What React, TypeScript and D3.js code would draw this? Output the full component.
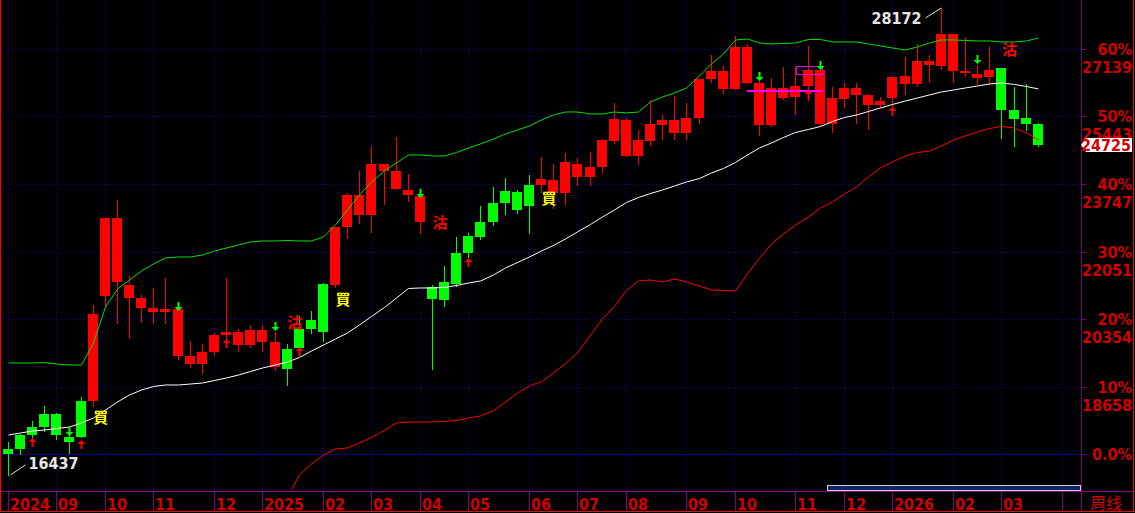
import React from "react";
import * as d3 from "d3";

// weekly bars, Aug 2024 -> Mar 2026
const openP = [16962, 17088, 17440, 17640, 17967, 17389, 17389, 18294, 20933, 22893, 21209, 20882, 20631, 20531, 20606, 19425, 19224, 19526, 19953, 20028, 19702, 20079, 19777, 19098, 19627, 20102, 20028, 21209, 22666, 23471, 22968, 24250, 24074, 23596, 23446, 21159, 20832, 21234, 22013, 22415, 22792, 23270, 23546, 23194, 23722, 23848, 23521, 24250, 23923, 24174, 24828, 25356, 24451, 24828, 25230, 25356, 25029, 25406, 26386, 26587, 26134, 27190, 26285, 25230, 26160, 25933, 26210, 26612, 25255, 25883, 26160, 25984, 25732, 25908, 26461, 26260, 26838, 26712, 27517, 26587, 26511, 26436, 26662, 25607, 25406, 25255];
const highP = [17264, 17465, 17791, 18168, 17992, 17640, 18394, 20706, 22893, 23345, 21435, 20958, 21134, 21385, 20656, 19802, 19727, 20003, 21385, 20102, 20204, 20204, 20028, 19727, 20430, 20556, 21259, 22666, 23521, 24074, 24702, 24250, 24928, 23998, 23446, 21209, 21686, 22415, 22516, 23194, 23672, 23898, 23596, 23973, 24426, 24250, 24526, 24400, 24551, 24878, 25783, 25406, 25104, 25858, 25481, 25959, 25783, 26386, 26989, 26712, 27466, 27265, 26335, 26411, 26687, 26687, 27215, 26612, 26185, 26285, 26285, 26009, 25933, 26436, 26939, 27265, 26989, 28172, 27517, 27441, 26738, 27190, 26662, 26185, 26260, 25280];
const lowP = [16437, 16962, 17364, 17540, 17339, 16987, 17389, 18168, 20681, 20254, 19877, 20279, 20254, 20254, 19350, 19149, 18998, 19450, 19647, 19551, 19652, 19551, 19073, 18697, 19526, 20003, 19802, 21159, 22390, 22767, 22541, 23244, 23621, 23320, 22516, 19098, 20681, 21184, 21913, 22365, 22717, 22993, 23018, 22516, 23546, 23144, 23244, 23722, 23722, 24049, 24777, 24451, 24250, 24727, 24878, 24878, 24878, 25280, 26310, 26034, 26134, 26285, 24978, 25205, 25883, 25506, 25858, 25205, 25054, 25682, 25280, 25129, 25682, 25607, 26009, 26210, 26310, 26637, 26310, 26461, 26260, 26260, 24903, 24702, 25104, 24702];
const closeP = [17088, 17440, 17640, 17967, 17440, 17264, 18294, 20480, 22893, 21284, 20882, 20631, 20531, 20606, 19425, 19224, 19526, 19953, 20028, 19702, 20079, 19777, 19149, 19602, 20102, 20329, 21234, 22666, 23471, 22968, 24250, 24074, 23621, 23471, 22792, 20857, 21284, 22013, 22440, 22792, 23270, 23571, 23094, 23722, 23873, 23521, 24300, 23923, 24174, 24853, 25381, 24451, 24853, 25255, 25356, 25029, 25406, 26386, 26587, 26134, 27190, 26285, 25230, 26160, 25908, 26210, 26612, 25255, 25908, 26160, 25984, 25732, 25833, 26436, 26260, 26838, 26738, 27517, 26587, 26537, 26411, 26612, 25607, 25381, 25255, 24725];
// bar colour state: g = green, r = red
const trend = "gggggggrrrrrrrrrrrrrrrrggggrrrrrrrrgggggggggrrrrrrrrrrrrrrrrrrrrrrrrrrrrrrrrrrrrrrgggg".split("");

// channel lines
const upperBand = [19249, 19249, 19249, 19261, 19224, 19199, 19199, 19751, 20656, 21108, 21335, 21561, 21737, 21887, 21913, 21913, 21963, 22063, 22139, 22214, 22290, 22315, 22315, 22327, 22315, 22315, 22415, 22717, 23094, 23471, 23797, 24074, 24275, 24476, 24476, 24451, 24451, 24539, 24652, 24752, 24878, 25004, 25104, 25205, 25355, 25481, 25556, 25556, 25506, 25506, 25556, 25531, 25556, 25808, 25933, 26034, 26160, 26461, 26763, 27014, 27366, 27391, 27290, 27265, 27278, 27290, 27378, 27378, 27316, 27316, 27316, 27265, 27215, 27165, 27114, 27190, 27290, 27366, 27366, 27353, 27341, 27341, 27316, 27316, 27341, 27416];
const midLine = [17439, 17490, 17540, 17565, 17603, 17640, 17741, 17867, 18068, 18269, 18445, 18570, 18658, 18696, 18696, 18721, 18746, 18809, 18872, 18947, 19035, 19123, 19199, 19274, 19387, 19550, 19701, 19852, 20003, 20204, 20417, 20644, 20882, 21121, 21134, 21134, 21146, 21196, 21259, 21309, 21460, 21636, 21774, 21913, 22063, 22202, 22365, 22541, 22729, 22918, 23094, 23282, 23408, 23508, 23596, 23697, 23797, 23885, 24024, 24137, 24287, 24476, 24652, 24777, 24916, 25041, 25117, 25192, 25318, 25418, 25481, 25569, 25657, 25745, 25833, 25908, 25984, 26059, 26109, 26160, 26210, 26260, 26285, 26248, 26197, 26134];
const lowerBand = [null, null, null, null, null, null, null, null, null, null, null, null, null, null, null, null, null, null, null, null, null, null, null, 15881, 16434, 16711, 16937, 17088, 17113, 17238, 17377, 17553, 17741, 17766, 17766, 17766, 17779, 17804, 17867, 17917, 18055, 18269, 18495, 18671, 18784, 18998, 19236, 19500, 19952, 20355, 20669, 21071, 21309, 21335, 21284, 21360, 21284, 21184, 21083, 21071, 21058, 21485, 21887, 22239, 22491, 22717, 22918, 23144, 23295, 23496, 23672, 23923, 24149, 24300, 24451, 24539, 24576, 24702, 24853, 24953, 25054, 25142, 25192, 25154, 25029, 24853];

// signals
const buyIdx = [7, 27, 44];
const buyAt = [17892, 20857, 23395];
const sellIdx = [23, 35, 82];
const sellAt = [20279, 22792, 27140];
const upArrowIdx = [2, 6, 18, 24, 38, 66, 73];
const upArrowAt = [17364, 17314, 19852, 19651, 21887, 26109, 25682];
const downArrowIdx = [5, 14, 22, 34, 62, 67, 80];
const downArrowAt = [17414, 20556, 20053, 23395, 26335, 26612, 26763];

// axes
const monthTicks = [0, 4, 8, 12, 17, 21, 26, 30, 34, 38, 43, 47, 51, 56, 60, 65, 69, 73, 78, 82, 87];
const monthLabels = ["2024", "09", "10", "11", "12", "2025", "02", "03", "04", "05", "06", "07", "08", "09", "10", "11", "12", "2026", "02", "03", ""];
const pctLabels = ["0.0%", "10%", "20%", "30%", "40%", "50%", "60%"];
const priceLabels = ["", "18658", "20354", "22051", "23747", "25443", "27139"];
const basePrice = 16962;
const topPrice = 27139;
const lastPrice = 24725;

const W = 1135;
const H = 513;
const plotR = 1081;
const plotB = 491;
const RED = "#ff0000";
const GREEN = "#00ff00";
const AXIS_RED = "#d00000";
const PURPLE = "#800080";
const GRID = "#0000c8";
const NUM_FONT = "'DejaVu Sans Condensed','DejaVu Sans',sans-serif";
const CJK_FONT = "'Noto Sans CJK TC','Noto Sans CJK SC',sans-serif";

export default function App() {
  const x = d3.scaleLinear().domain([0, 87]).range([8, 1062]);
  const y = d3.scaleLinear().domain([basePrice, topPrice]).range([454, 49]);
  const px = (i: number) => Math.round(x(i));
  const levels = d3.range(7).map((k) => basePrice + (k * (topPrice - basePrice)) / 6);

  const line = d3
    .line<number | null>()
    .defined((d) => d != null)
    .x((_, i) => px(i) + 0.5)
    .y((d) => y(d as number));

  const hiI = d3.maxIndex(highP);
  const loI = d3.minIndex(lowP);
  const hx = px(hiI) + 0.5, hy = y(highP[hiI]);
  const lx = px(loI) + 0.5, ly = y(lowP[loI]);

  const upArrow = (c: number, t: number) =>
    `M${c},${t}L${c + 4},${t + 4}L${c + 1},${t + 4}L${c + 1},${t + 9}L${c - 1},${t + 9}L${c - 1},${t + 4}L${c - 4},${t + 4}Z`;
  const downArrow = (c: number, t: number) =>
    `M${c},${t}L${c + 4},${t - 4}L${c + 1},${t - 4}L${c + 1},${t - 9}L${c - 1},${t - 9}L${c - 1},${t - 4}L${c - 4},${t - 4}Z`;

  const ly0 = Math.round(y(lastPrice));

  return (
    <>
      <style>{"html,body{margin:0;padding:0;background:#000}"}</style>
      <svg width={W} height={H} style={{ display: "block", background: "#000" }}>
        <defs>
          <clipPath id="plot">
            <rect x={0} y={0} width={plotR} height={plotB - 1} />
          </clipPath>
        </defs>

        {/* grid */}
        {levels.map((v, k) => (
          <line key={"h" + k} x1={0} x2={plotR} y1={Math.round(y(v)) + 0.5} y2={Math.round(y(v)) + 0.5}
            stroke={k === 0 ? "#0000e0" : GRID} strokeDasharray={k === 0 ? "1 1" : "1 3"} />
        ))}
        {monthTicks.map((t, k) => (
          <line key={"v" + k} x1={px(t) + 0.5} x2={px(t) + 0.5} y1={0} y2={plotB - 1}
            stroke={GRID} strokeDasharray="1 3" />
        ))}

        {/* candles */}
        <g shapeRendering="crispEdges">
          {openP.map((o, i) => {
            const c = closeP[i];
            const col = trend[i] === "r" ? RED : GREEN;
            const cx = px(i);
            const yt = Math.round(y(Math.max(o, c)));
            const yb = Math.round(y(Math.min(o, c)));
            const yh = Math.round(y(highP[i]));
            const yl = Math.round(y(lowP[i]));
            return (
              <g key={i} fill={col}>
                <rect x={cx} y={yh} width={1} height={yl - yh + 1} />
                <rect x={cx - 5} y={yt} width={10} height={Math.max(1, yb - yt)} />
              </g>
            );
          })}
        </g>

        {/* channel lines */}
        <g clipPath="url(#plot)" fill="none" strokeWidth={1}>
          <path d={line(upperBand) || ""} stroke="#00e000" />
          <path d={line(midLine) || ""} stroke="#ffffff" />
          <path d={line(lowerBand) || ""} stroke="#ff0000" />
        </g>

        {/* magenta box and level line */}
        <rect x={px(65) + 1.5} y={Math.round(y(26712)) + 0.5} width={px(67) - px(65) + 1} height={Math.round(y(26511)) - Math.round(y(26712))}
          fill="none" stroke="#e000e0" />
        <rect x={px(61)} y={Math.round(y(26084)) - 1} width={px(67) - px(61) + 3} height={2} fill="#ff00ff" />

        {/* arrows */}
        {upArrowIdx.map((i, k) => (
          <path key={"u" + k} d={upArrow(px(i) + 0.5, Math.round(y(upArrowAt[k])))} fill={RED} />
        ))}
        {downArrowIdx.map((i, k) => (
          <path key={"d" + k} d={downArrow(px(i) + 0.5, Math.round(y(downArrowAt[k])))} fill={GREEN} />
        ))}

        {/* buy / sell marks */}
        {buyIdx.map((i, k) => (
          <text key={"b" + k} x={x(i) + 8} y={y(buyAt[k])} textAnchor="middle" dominantBaseline="central"
            fontFamily={CJK_FONT} fontWeight="bold" fontSize={15} fill="#ffff00">買</text>
        ))}
        {sellIdx.map((i, k) => (
          <text key={"s" + k} x={x(i) + 8} y={y(sellAt[k])} textAnchor="middle" dominantBaseline="central"
            fontFamily={CJK_FONT} fontWeight="bold" fontSize={15} fill={RED}>沽</text>
        ))}

        {/* high / low annotations */}
        <line x1={hx - 16} y1={hy + 10} x2={hx} y2={hy} stroke="#e0e0e0" />
        <text x={hx - 20} y={hy + 11} textAnchor="end" dominantBaseline="central" fontFamily={NUM_FONT}
          fontWeight="bold" fontSize={16} fill="#e6e6e6">{highP[hiI]}</text>
        <line x1={lx + 2} y1={ly} x2={lx + 17} y2={ly - 10} stroke="#e0e0e0" />
        <text x={lx + 20} y={ly - 11} dominantBaseline="central" fontFamily={NUM_FONT}
          fontWeight="bold" fontSize={16} fill="#e6e6e6">{lowP[loI]}</text>

        {/* scroll bar */}
        <rect x={827.5} y={485.5} width={253} height={5} fill="#0a2868" stroke="#d0d0d0" />

        {/* right axis */}
        <line x1={plotR + 0.5} x2={plotR + 0.5} y1={0} y2={H - 2} stroke={PURPLE} />
        {levels.map((v, k) => {
          const ty = Math.round(y(v)) + 0.5;
          return (
            <g key={"r" + k}>
              <line x1={plotR} x2={plotR + 5} y1={ty} y2={ty} stroke={PURPLE} />
              <text x={1132} y={ty} textAnchor="end" dominantBaseline="central" fontFamily={NUM_FONT}
                fontWeight="bold" fontSize={16} fill={AXIS_RED}>{pctLabels[k]}</text>
              {priceLabels[k] && (
                <text x={1132} y={ty + 18} textAnchor="end" dominantBaseline="central" fontFamily={NUM_FONT}
                  fontWeight="bold" fontSize={16} fill={AXIS_RED}>{priceLabels[k]}</text>
              )}
            </g>
          );
        })}
        <path d={`M${plotR},${ly0}L${plotR + 5},${ly0 - 7}L1132,${ly0 - 7}L1132,${ly0 + 7}L${plotR + 5},${ly0 + 7}Z`} fill="#ffffff" />
        <text x={1131} y={ly0} textAnchor="end" dominantBaseline="central" fontFamily={NUM_FONT}
          fontWeight="bold" fontSize={16} fill={AXIS_RED}>{lastPrice}</text>

        {/* bottom axis */}
        <line x1={0} x2={plotR} y1={plotB + 0.5} y2={plotB + 0.5} stroke={PURPLE} />
        {monthTicks.map((t, k) => (
          <g key={"m" + k}>
            <line x1={px(t) + 0.5} x2={px(t) + 0.5} y1={plotB} y2={H - 2} stroke={PURPLE} />
            <text x={px(t) + 2} y={510} fontFamily={NUM_FONT} fontWeight="bold" fontSize={16} fill={AXIS_RED}>
              {monthLabels[k]}
            </text>
          </g>
        ))}
        <line x1={plotR} x2={W - 2} y1={plotB + 0.5} y2={plotB + 0.5} stroke={PURPLE} />
        <text x={1090} y={509} fontFamily={CJK_FONT} fontSize={16} fill={AXIS_RED}>周线</text>

        {/* frame */}
        <line x1={0.5} x2={0.5} y1={0} y2={H - 1} stroke={RED} />
        <line x1={W - 1.5} x2={W - 1.5} y1={0} y2={H - 1} stroke={RED} />
        <line x1={0} x2={W - 1} y1={H - 1.5} y2={H - 1.5} stroke={RED} />
      </svg>
    </>
  );
}
